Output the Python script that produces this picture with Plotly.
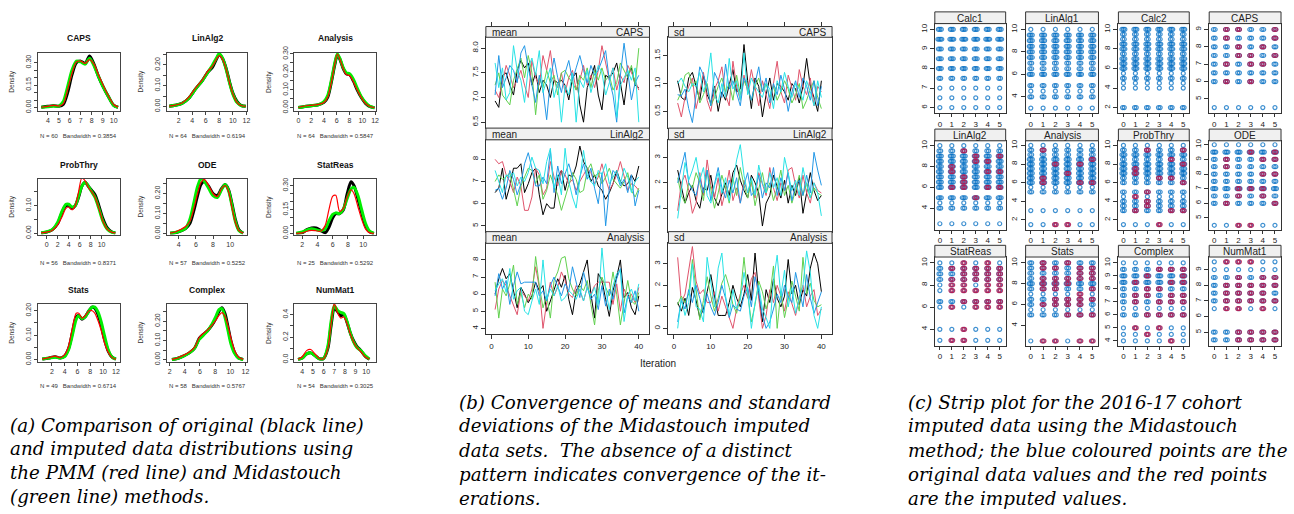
import plotly.graph_objects as go

W, H = 1294, 514

# ============ (a) density comparison data ============
caps_x = [3.4, 4.0, 4.5, 5.0, 5.4, 5.8, 6.2, 6.6, 7.0, 7.4, 7.8, 8.2, 8.6, 9.0, 9.5, 10.0, 10.4]
caps_orig = [0.002, 0.008, 0.012, 0.008, 0.02, 0.10, 0.22, 0.30, 0.31, 0.295, 0.345, 0.29, 0.21, 0.145, 0.075, 0.015, 0.002]
caps_pmm = [0.002, 0.008, 0.015, 0.01, 0.025, 0.12, 0.23, 0.305, 0.31, 0.295, 0.32, 0.29, 0.22, 0.155, 0.08, 0.02, 0.003]
caps_mids = [0.002, 0.006, 0.01, 0.01, 0.04, 0.14, 0.25, 0.31, 0.305, 0.29, 0.33, 0.28, 0.21, 0.145, 0.075, 0.015, 0.002]

linalg2_x = [0.6, 1.5, 2.5, 3.5, 4.5, 5.5, 6.3, 7.0, 7.6, 8.0, 8.5, 9.0, 9.5, 10.0, 10.6, 11.2, 11.9]
linalg2_orig = [0.002, 0.006, 0.015, 0.04, 0.085, 0.125, 0.165, 0.19, 0.23, 0.25, 0.23, 0.185, 0.12, 0.065, 0.025, 0.006, 0.001]
linalg2_pmm = [0.002, 0.007, 0.017, 0.045, 0.09, 0.13, 0.17, 0.195, 0.23, 0.245, 0.225, 0.18, 0.115, 0.06, 0.02, 0.005, 0.001]
linalg2_mids = [0.002, 0.006, 0.015, 0.04, 0.085, 0.125, 0.165, 0.2, 0.235, 0.255, 0.23, 0.18, 0.115, 0.06, 0.02, 0.005, 0.001]

analysis_x = [0, 1, 2, 3, 4, 4.6, 5.2, 5.7, 6.1, 6.5, 7.0, 7.5, 8.0, 8.6, 9.2, 9.8, 10.5, 11.2, 11.9]
analysis_orig = [0.002, 0.008, 0.012, 0.016, 0.03, 0.06, 0.15, 0.24, 0.295, 0.27, 0.22, 0.19, 0.185, 0.15, 0.1, 0.06, 0.025, 0.007, 0.001]
analysis_pmm = [0.002, 0.01, 0.014, 0.018, 0.03, 0.06, 0.15, 0.245, 0.3, 0.27, 0.22, 0.185, 0.18, 0.145, 0.1, 0.06, 0.025, 0.007, 0.001]
analysis_mids = [0.002, 0.008, 0.012, 0.016, 0.035, 0.07, 0.16, 0.25, 0.3, 0.275, 0.225, 0.195, 0.19, 0.16, 0.11, 0.065, 0.03, 0.008, 0.001]

probthry_x = [-1, 0, 1, 2, 2.8, 3.5, 4.0, 4.6, 5.2, 5.8, 6.4, 7.0, 7.6, 8.2, 8.8, 9.5, 10.2, 11, 11.8, 12.5]
probthry_orig = [0.001, 0.004, 0.012, 0.035, 0.075, 0.1, 0.1, 0.09, 0.1, 0.13, 0.17, 0.185, 0.17, 0.155, 0.14, 0.1, 0.055, 0.02, 0.005, 0.001]
probthry_pmm = [0.001, 0.004, 0.01, 0.03, 0.06, 0.09, 0.095, 0.085, 0.1, 0.15, 0.2, 0.19, 0.165, 0.15, 0.13, 0.09, 0.045, 0.015, 0.004, 0.001]
probthry_mids = [0.001, 0.005, 0.013, 0.04, 0.08, 0.105, 0.105, 0.095, 0.1, 0.135, 0.17, 0.185, 0.17, 0.15, 0.13, 0.09, 0.045, 0.015, 0.004, 0.001]

ode_x = [3.0, 3.6, 4.2, 4.8, 5.3, 5.8, 6.2, 6.6, 7.0, 7.5, 8.0, 8.5, 9.0, 9.4, 9.8, 10.2, 10.6, 11.0, 11.5]
ode_orig = [0.001, 0.004, 0.012, 0.025, 0.05, 0.12, 0.19, 0.245, 0.26, 0.235, 0.2, 0.19, 0.225, 0.245, 0.22, 0.15, 0.07, 0.02, 0.002]
ode_pmm = [0.002, 0.008, 0.02, 0.035, 0.06, 0.13, 0.2, 0.255, 0.27, 0.24, 0.2, 0.185, 0.225, 0.24, 0.21, 0.13, 0.055, 0.015, 0.002]
ode_mids = [0.001, 0.005, 0.013, 0.027, 0.07, 0.16, 0.235, 0.275, 0.26, 0.225, 0.19, 0.18, 0.22, 0.245, 0.215, 0.14, 0.06, 0.015, 0.002]

statreas_x = [1.2, 2.0, 2.6, 3.2, 3.8, 4.4, 5.0, 5.5, 6.0, 6.4, 6.9, 7.4, 7.9, 8.4, 8.8, 9.3, 9.8, 10.3, 10.8, 11.4]
statreas_orig = [0.001, 0.006, 0.025, 0.035, 0.035, 0.02, 0.005, 0.04, 0.1, 0.125, 0.125, 0.15, 0.25, 0.325, 0.3, 0.22, 0.13, 0.05, 0.012, 0.001]
statreas_pmm = [0.001, 0.005, 0.015, 0.02, 0.018, 0.015, 0.05, 0.15, 0.235, 0.24, 0.14, 0.16, 0.23, 0.275, 0.25, 0.17, 0.09, 0.03, 0.006, 0.001]
statreas_mids = [0.002, 0.01, 0.022, 0.03, 0.025, 0.018, 0.03, 0.08, 0.12, 0.13, 0.125, 0.155, 0.22, 0.28, 0.29, 0.24, 0.15, 0.065, 0.018, 0.002]

stats_x = [0.5, 1.5, 2.5, 3.3, 4.0, 4.6, 5.2, 5.8, 6.2, 6.7, 7.2, 7.8, 8.3, 8.7, 9.2, 9.7, 10.2, 10.8, 11.4, 12.0]
stats_orig = [0.002, 0.006, 0.012, 0.006, 0.015, 0.045, 0.11, 0.175, 0.18, 0.165, 0.175, 0.2, 0.215, 0.21, 0.185, 0.14, 0.085, 0.035, 0.01, 0.002]
stats_pmm = [0.002, 0.008, 0.014, 0.008, 0.02, 0.055, 0.13, 0.19, 0.19, 0.17, 0.18, 0.2, 0.2, 0.19, 0.16, 0.12, 0.07, 0.03, 0.008, 0.001]
stats_mids = [0.002, 0.006, 0.01, 0.006, 0.012, 0.04, 0.1, 0.165, 0.18, 0.168, 0.175, 0.2, 0.215, 0.215, 0.195, 0.155, 0.1, 0.04, 0.01, 0.002]

complex_x = [2.3, 3.0, 3.8, 4.6, 5.3, 5.9, 6.4, 7.0, 7.6, 8.1, 8.5, 8.9, 9.3, 9.7, 10.1, 10.6, 11.1, 11.7]
complex_orig = [0.001, 0.006, 0.018, 0.035, 0.06, 0.11, 0.13, 0.15, 0.18, 0.215, 0.25, 0.27, 0.24, 0.17, 0.095, 0.035, 0.008, 0.001]
complex_pmm = [0.001, 0.008, 0.022, 0.04, 0.065, 0.115, 0.135, 0.155, 0.18, 0.205, 0.23, 0.245, 0.225, 0.175, 0.11, 0.045, 0.012, 0.001]
complex_mids = [0.001, 0.006, 0.018, 0.035, 0.06, 0.105, 0.125, 0.15, 0.185, 0.225, 0.26, 0.265, 0.22, 0.15, 0.08, 0.03, 0.007, 0.001]

nummat1_x = [3.6, 4.0, 4.4, 4.8, 5.2, 5.6, 6.0, 6.4, 6.7, 7.0, 7.3, 7.6, 7.9, 8.2, 8.5, 8.8, 9.1, 9.5, 9.9, 10.3]
nummat1_orig = [0.002, 0.015, 0.05, 0.06, 0.035, 0.008, 0.01, 0.1, 0.3, 0.45, 0.43, 0.39, 0.4, 0.33, 0.24, 0.17, 0.12, 0.08, 0.03, 0.003]
nummat1_pmm = [0.003, 0.025, 0.08, 0.09, 0.05, 0.01, 0.008, 0.1, 0.32, 0.5, 0.42, 0.37, 0.38, 0.32, 0.23, 0.16, 0.11, 0.07, 0.025, 0.003]
nummat1_mids = [0.002, 0.015, 0.05, 0.06, 0.035, 0.008, 0.01, 0.12, 0.34, 0.48, 0.44, 0.42, 0.41, 0.34, 0.24, 0.16, 0.11, 0.08, 0.035, 0.004]

dens_titles = ["CAPS", "LinAlg2", "Analysis", "ProbThry", "ODE", "StatReas", "Stats", "Complex", "NumMat1"]
dens_notes = ["N = 60   Bandwidth = 0.3854", "N = 64   Bandwidth = 0.6194", "N = 64   Bandwidth = 0.5847",
              "N = 56   Bandwidth = 0.8371", "N = 57   Bandwidth = 0.5252", "N = 25   Bandwidth = 0.5292",
              "N = 49   Bandwidth = 0.6714", "N = 58   Bandwidth = 0.5767", "N = 54   Bandwidth = 0.3025"]
dens_xticks = [[4, 5, 6, 7, 8, 9, 10], [2, 4, 6, 8, 10, 12], [0, 2, 4, 6, 8, 10, 12],
               [0, 2, 4, 6, 8, 10], [4, 6, 8, 10], [2, 4, 6, 8, 10],
               [2, 4, 6, 8, 10, 12], [2, 4, 6, 8, 10, 12], [4, 5, 6, 7, 8, 9, 10]]
dens_yticks = [[0, 0.05, 0.10, 0.15, 0.20, 0.25, 0.30], [0, 0.05, 0.10, 0.15, 0.20, 0.25],
               [0, 0.05, 0.10, 0.15, 0.20, 0.25, 0.30], [0, 0.05, 0.10, 0.15],
               [0, 0.05, 0.10, 0.15, 0.20, 0.25], [0, 0.05, 0.10, 0.15, 0.20, 0.25, 0.30],
               [0, 0.05, 0.10, 0.15, 0.20], [0, 0.05, 0.10, 0.15, 0.20, 0.25], [0, 0.1, 0.2, 0.3, 0.4]]
dens_ylabels = [["0.00", "", "", "0.15", "", "", "0.30"], ["0.00", "", "0.10", "", "0.20", ""],
                ["0.00", "", "0.10", "", "0.20", "", "0.30"], ["0.00", "", "0.10", ""],
                ["0.00", "", "0.10", "", "0.20", ""], ["0.00", "", "", "0.15", "", "", "0.30"],
                ["0.00", "", "0.10", "", "0.20"], ["0.00", "", "0.10", "", "0.20", ""], ["0.0", "", "0.2", "", "0.4"]]
dens_xrange = [[3.09, 10.55], [0.22, 12.15], [-0.63, 12.16], [-1.6, 13.3], [2.6, 12.0],
               [0.95, 11.7], [-0.19, 12.6], [1.6, 12.26], [3.25, 10.93]]
dens_yrange = [[-0.02, 0.365], [-0.019, 0.258], [-0.015, 0.306], [-0.005, 0.197], [-0.005, 0.273],
               [-0.006, 0.343], [-0.008, 0.228], [-0.01, 0.29], [-0.017, 0.496]]
dens_data = [(caps_x, caps_orig, caps_pmm, caps_mids), (linalg2_x, linalg2_orig, linalg2_pmm, linalg2_mids),
             (analysis_x, analysis_orig, analysis_pmm, analysis_mids), (probthry_x, probthry_orig, probthry_pmm, probthry_mids),
             (ode_x, ode_orig, ode_pmm, ode_mids), (statreas_x, statreas_orig, statreas_pmm, statreas_mids),
             (stats_x, stats_orig, stats_pmm, stats_mids), (complex_x, complex_orig, complex_pmm, complex_mids),
             (nummat1_x, nummat1_orig, nummat1_pmm, nummat1_mids)]

# ============ (b) convergence trace data (5 chains x 40 iterations) ============
iterations = list(range(1, 41))
chain_colors = ["#000000", "#DF536B", "#61D04F", "#2297E6", "#28E2E5"]

mean_caps = [
    [6.93, 6.80, 7.45, 7.50, 7.25, 7.05, 7.55, 7.75, 7.60, 7.70, 7.25, 7.50, 7.10, 7.35, 7.25, 7.00, 7.35, 7.30, 7.35, 7.25,
     6.95, 7.40, 7.50, 6.85, 6.50, 7.20, 7.40, 7.65, 7.05, 6.75, 7.45, 7.40, 7.50, 7.70, 7.30, 6.85, 7.45, 7.60, 7.25, 7.20],
    [7.15, 7.00, 7.30, 7.65, 7.45, 7.20, 7.35, 7.55, 7.25, 7.00, 7.75, 7.40, 7.25, 7.85, 7.55, 7.95, 7.35, 7.20, 7.50, 7.10,
     7.40, 7.55, 7.15, 7.35, 7.65, 7.25, 7.45, 7.20, 7.55, 8.05, 7.70, 7.35, 7.60, 7.15, 7.45, 7.30, 7.65, 7.50, 7.35, 7.15],
    [7.25, 7.50, 7.05, 6.95, 6.85, 7.35, 7.60, 7.80, 7.40, 7.85, 7.50, 6.65, 7.40, 7.20, 7.55, 7.30, 7.45, 7.05, 7.50, 7.55,
     7.40, 7.30, 7.15, 7.45, 7.35, 7.60, 7.20, 7.55, 7.35, 7.60, 7.35, 7.45, 7.15, 7.30, 7.70, 7.55, 7.40, 7.65, 7.25, 8.00],
    [7.05, 7.85, 7.20, 7.40, 7.65, 7.55, 7.30, 7.90, 8.05, 7.60, 7.25, 6.90, 7.45, 7.15, 6.55, 7.35, 7.80, 7.40, 7.10, 7.50,
     7.75, 7.35, 7.60, 7.85, 7.55, 7.30, 7.65, 7.45, 7.55, 7.75, 7.95, 7.35, 7.05, 6.50, 7.45, 8.10, 7.50, 6.95, 7.30, 7.45],
    [7.70, 7.20, 7.60, 6.95, 7.10, 8.05, 7.55, 7.35, 6.90, 7.60, 7.80, 7.45, 7.95, 7.10, 7.35, 7.60, 7.00, 7.30, 6.50, 7.25,
     7.05, 7.50, 6.50, 7.35, 7.20, 7.55, 7.10, 7.40, 7.65, 7.50, 7.05, 7.30, 7.60, 6.60, 7.25, 7.40, 7.55, 7.35, 7.60, 6.50],
]
sd_caps = [
    [1.05, 0.75, 0.70, 1.10, 1.20, 0.95, 0.70, 1.15, 0.80, 0.65, 0.95, 0.50, 0.85, 0.70, 1.00, 1.25, 0.85, 0.90, 1.70, 1.05,
     0.55, 1.10, 0.95, 0.40, 0.80, 1.10, 0.70, 1.00, 0.95, 0.85, 0.70, 1.00, 0.90, 0.65, 0.95, 1.45, 0.95, 0.75, 0.50, 1.05],
    [0.65, 0.40, 0.75, 0.95, 1.10, 0.55, 0.85, 1.20, 0.70, 0.50, 0.90, 1.05, 1.30, 0.80, 0.60, 1.40, 0.95, 0.70, 1.15, 0.85,
     1.25, 0.95, 0.60, 1.05, 0.80, 0.55, 1.00, 1.40, 0.85, 0.65, 1.15, 0.90, 0.70, 1.25, 0.95, 0.80, 1.10, 0.60, 0.95, 0.85],
    [0.70, 0.85, 1.15, 1.20, 0.95, 1.05, 0.65, 0.80, 1.00, 0.60, 0.75, 0.95, 1.10, 0.85, 1.00, 0.70, 1.15, 0.80, 1.05, 0.90,
     0.70, 0.95, 1.10, 0.85, 1.00, 0.75, 0.95, 0.70, 0.85, 1.05, 0.90, 0.65, 0.80, 1.00, 0.55, 0.70, 0.90, 1.05, 0.75, 0.55],
    [0.80, 0.78, 0.90, 0.55, 0.30, 0.80, 1.30, 1.15, 0.95, 0.60, 1.20, 1.05, 0.75, 1.35, 0.90, 1.05, 0.80, 0.60, 1.10, 0.95,
     0.70, 1.00, 1.30, 0.85, 1.10, 0.65, 1.00, 0.80, 1.15, 0.90, 0.50, 0.85, 1.05, 0.75, 1.10, 0.95, 0.70, 1.05, 0.60, 0.95],
    [1.00, 1.10, 0.95, 0.85, 1.00, 0.95, 1.20, 0.85, 1.05, 1.55, 0.80, 0.65, 1.00, 0.75, 1.45, 0.90, 1.05, 0.70, 1.55, 0.80,
     1.10, 0.95, 0.85, 0.75, 1.00, 0.90, 0.55, 1.05, 0.85, 1.20, 0.95, 0.75, 1.00, 0.90, 0.70, 1.05, 0.85, 0.60, 1.05, 0.75],
]
mean_linalg2 = [
    [6.5, 6.7, 7.6, 6.2, 6.8, 7.6, 7.6, 7.8, 6.5, 6.9, 7.4, 7.6, 6.4, 5.5, 6.0, 5.8, 5.8, 7.2, 7.5, 6.6,
     7.3, 7.2, 7.7, 8.6, 7.9, 7.6, 7.0, 7.3, 6.8, 6.6, 6.2, 6.5, 6.9, 7.5, 7.0, 6.8, 6.9, 7.3, 7.0, 7.7],
    [8.0, 7.8, 7.9, 7.3, 7.0, 6.5, 7.2, 6.8, 5.7, 5.7, 6.3, 7.6, 7.3, 6.4, 6.7, 7.9, 7.2, 6.8, 7.5, 7.3,
     6.9, 7.1, 6.6, 7.0, 7.3, 7.6, 7.4, 6.9, 7.2, 7.8, 7.1, 6.6, 6.9, 7.3, 7.9, 7.2, 6.6, 6.9, 6.8, 6.6],
    [7.0, 7.3, 7.1, 7.2, 7.4, 6.6, 5.9, 6.8, 7.2, 7.6, 7.5, 6.9, 7.3, 6.2, 6.6, 7.3, 6.8, 6.4, 5.7, 6.3,
     6.9, 7.4, 7.1, 6.5, 6.6, 7.5, 7.8, 7.2, 7.4, 6.9, 7.2, 7.6, 7.1, 6.9, 6.7, 7.0, 7.4, 6.6, 6.3, 6.7],
    [6.6, 6.7, 6.2, 6.7, 7.5, 7.1, 6.4, 6.9, 7.8, 8.3, 7.6, 6.8, 6.8, 7.2, 6.9, 8.4, 6.5, 7.7, 6.9, 7.4,
     7.8, 7.2, 6.4, 7.2, 7.8, 7.1, 7.6, 6.7, 6.0, 7.4, 5.0, 6.7, 7.5, 7.3, 6.8, 7.1, 6.5, 7.3, 5.9, 6.6],
    [7.5, 7.0, 6.5, 7.3, 7.2, 7.4, 6.8, 7.2, 7.0, 7.4, 8.1, 7.6, 7.5, 6.9, 7.9, 8.5, 6.7, 7.3, 6.4, 8.5,
     7.0, 6.3, 5.8, 7.1, 8.4, 7.3, 7.0, 6.8, 7.5, 7.3, 7.8, 6.9, 7.2, 7.5, 6.9, 7.6, 7.2, 6.5, 7.0, 7.2],
]
sd_linalg2 = [
    [2.5, 1.9, 1.2, 1.6, 1.9, 1.3, 1.0, 1.8, 1.7, 2.3, 1.4, 1.1, 1.6, 2.0, 1.5, 2.4, 2.7, 2.1, 1.7, 1.4,
     2.3, 2.0, 1.6, 0.3, 1.2, 1.5, 2.3, 1.8, 1.4, 2.1, 1.2, 1.9, 1.5, 2.2, 0.8, 1.6, 2.4, 1.7, 1.3, 1.5],
    [0.9, 2.0, 2.3, 1.7, 0.8, 1.2, 2.4, 1.5, 2.9, 1.9, 1.4, 2.2, 1.1, 1.7, 2.5, 1.3, 1.8, 1.2, 2.1, 1.6,
     2.0, 1.4, 2.4, 1.9, 1.5, 2.6, 1.8, 1.3, 2.0, 1.7, 2.5, 2.6, 1.9, 1.4, 2.3, 1.6, 1.2, 2.0, 1.7, 1.6],
    [2.2, 1.5, 1.2, 2.0, 1.8, 2.4, 2.0, 1.3, 2.5, 1.7, 1.0, 1.6, 2.3, 1.8, 1.2, 2.2, 1.5, 2.6, 1.9, 1.4,
     2.1, 1.1, 1.7, 2.4, 1.6, 2.0, 1.3, 1.8, 2.5, 1.5, 1.9, 1.2, 1.7, 2.3, 1.5, 2.0, 1.4, 1.8, 1.6, 1.5],
    [2.0, 2.6, 3.2, 2.0, 1.7, 1.5, 2.2, 1.6, 2.5, 1.3, 2.0, 2.6, 1.8, 1.4, 2.1, 1.6, 2.2, 1.2, 1.9, 2.4,
     1.5, 1.7, 2.3, 1.4, 2.0, 1.8, 2.6, 1.5, 2.2, 1.7, 2.4, 1.3, 1.9, 2.1, 1.5, 2.3, 1.6, 3.2, 2.5, 1.9],
    [0.6, 1.6, 2.8, 2.1, 2.5, 3.0, 2.1, 2.6, 1.5, 1.2, 1.9, 2.4, 1.6, 2.2, 1.3, 2.0, 2.9, 3.5, 2.3, 1.6,
     2.2, 1.5, 2.7, 2.0, 1.6, 2.4, 1.8, 2.2, 1.5, 3.0, 2.4, 1.7, 2.1, 1.5, 2.6, 1.9, 1.4, 2.0, 1.6, 0.7],
]
mean_analysis = [
    [6.0, 6.9, 7.5, 6.9, 7.2, 6.2, 5.2, 6.4, 6.0, 5.5, 5.9, 6.7, 6.2, 6.5, 5.0, 5.6, 6.2, 6.9, 6.4, 7.1,
     5.7, 4.8, 6.2, 6.6, 7.3, 8.0, 6.0, 4.6, 7.2, 6.8, 5.7, 4.7, 6.2, 7.0, 8.0, 5.8, 6.1, 5.2, 4.8, 5.9],
    [5.1, 6.3, 6.8, 6.5, 5.9, 5.3, 4.8, 6.2, 5.9, 5.6, 6.3, 7.6, 6.4, 4.0, 5.5, 6.7, 5.9, 6.4, 7.3, 6.8,
     6.0, 5.8, 6.5, 6.2, 5.6, 6.4, 6.0, 6.5, 6.7, 6.7, 6.7, 6.7, 5.4, 6.6, 5.0, 6.3, 5.8, 6.0, 5.5, 6.4],
    [6.7, 4.6, 6.3, 5.9, 6.6, 7.7, 5.4, 6.1, 5.2, 6.0, 5.7, 8.2, 6.5, 5.2, 5.9, 4.6, 6.8, 7.3, 8.1, 8.2,
     6.9, 6.3, 5.9, 6.5, 6.2, 6.8, 5.4, 4.2, 6.2, 7.0, 6.4, 5.9, 7.3, 6.0, 4.2, 5.5, 6.8, 5.6, 5.4, 6.1],
    [5.9, 7.2, 6.3, 6.8, 5.4, 6.5, 7.3, 6.6, 6.7, 6.7, 6.7, 6.7, 5.9, 6.2, 5.6, 6.5, 7.0, 6.4, 5.9, 6.6,
     6.2, 7.6, 6.6, 5.8, 7.3, 6.4, 5.7, 6.0, 5.1, 6.5, 5.3, 6.3, 5.7, 6.9, 7.5, 4.9, 5.9, 5.5, 6.2, 5.0],
    [6.2, 6.6, 6.9, 6.1, 7.5, 5.7, 6.2, 6.4, 5.0, 4.8, 5.6, 6.3, 5.4, 8.0, 5.7, 6.3, 5.9, 6.5, 5.6, 5.8,
     6.2, 6.0, 5.7, 6.3, 5.6, 6.4, 5.9, 6.4, 5.4, 8.7, 6.3, 5.1, 6.5, 7.2, 7.4, 4.4, 5.9, 6.3, 5.6, 6.6],
]
sd_analysis = [
    [1.2, 0.8, 1.4, 0.6, 1.9, 1.3, 0.5, 0.9, 1.7, 2.5, 1.5, 0.6, 0.6, 0.6, 1.2, 2.0, 1.4, 1.0, 1.6, 2.5,
     1.3, 3.5, 1.6, 0.3, 1.8, 1.2, 2.3, 1.4, 1.0, 1.5, 3.2, 1.6, 2.0, 1.1, 1.8, 1.5, 2.8, 3.5, 3.0, 1.7],
    [3.3, 1.2, 1.6, 2.8, 3.8, 2.2, 1.6, 1.8, 1.2, 1.2, 1.7, 0.8, 1.5, 1.0, 0.5, 0.0, 0.9, 1.6, 2.0, 1.4,
     2.3, 2.6, 1.4, 0.0, 0.6, 1.8, 1.2, 2.0, 1.5, 0.8, 1.7, 1.2, 0.6, 1.4, 2.0, 1.0, 1.5, 1.8, 0.6, 0.9],
    [1.1, 1.5, 1.2, 1.6, 3.2, 1.8, 0.4, 1.3, 2.4, 1.5, 0.8, 1.4, 2.1, 2.5, 1.9, 1.1, 0.7, 1.5, 3.3, 1.6,
     0.3, 1.1, 2.2, 1.7, 0.9, 1.5, 2.9, 0.0, 1.7, 0.5, 1.3, 2.2, 1.5, 0.8, 3.3, 1.6, 2.1, 1.3, 1.0, 1.1],
    [0.3, 1.3, 0.9, 1.8, 1.2, 2.0, 1.4, 0.7, 1.6, 1.0, 0.6, 1.2, 2.0, 1.4, 0.5, 1.1, 0.9, 0.8, 1.5, 1.9,
     1.0, 2.4, 1.7, 0.6, 0.0, 0.3, 0.9, 1.6, 1.2, 2.0, 1.5, 1.2, 2.6, 1.8, 1.0, 2.5, 1.4, 0.7, 1.2, 1.7],
    [0.0, 1.4, 0.6, 1.2, 3.0, 1.0, 0.9, 0.3, 3.3, 2.2, 1.0, 2.8, 3.5, 1.5, 0.6, 1.8, 0.9, 1.3, 2.6, 1.7,
     0.0, 1.2, 2.0, 0.9, 0.5, 0.0, 2.2, 3.4, 1.5, 2.7, 1.0, 1.9, 0.7, 1.4, 2.0, 3.6, 2.6, 0.6, 0.0, 1.0],
]
trace_stats = ["mean", "sd", "mean", "sd", "mean", "sd"]
trace_vars = ["CAPS", "CAPS", "LinAlg2", "LinAlg2", "Analysis", "Analysis"]
trace_data = [mean_caps, sd_caps, mean_linalg2, sd_linalg2, mean_analysis, sd_analysis]
trace_yrange = [[6.38, 8.22], [0.2, 1.83], [4.74, 8.88], [0.08, 3.69], [3.66, 8.97], [-0.27, 3.95]]
trace_yticks = [[6.5, 7.0, 7.5, 8.0], [0.5, 1.0, 1.5], [5, 6, 7, 8], [1, 2, 3], [4, 5, 6, 7, 8], [0, 1, 2, 3]]
trace_ylabels = [["6.5", "7.0", "7.5", "8.0"], ["0.5", "1.0", "1.5"], ["5", "6", "7", "8"], ["1", "2", "3"],
                 ["4", "5", "6", "7", "8"], ["0", "1", "2", "3"]]
iter_ticks = [0, 10, 20, 30, 40]

# ============ (c) strip plot data (imputation number 0..5) ============
imp_numbers = [0, 1, 2, 3, 4, 5]

calc1_levels = [6.0, 6.5, 7.0, 7.5, 8.0, 8.5, 9.0, 9.5, 10.0]
calc1_counts = [1, 1, 1, 2, 3, 3, 3, 4, 3]
calc1_imputed = [[], [], [], [], []]

linalg1_levels = [3.0, 4.0, 4.5, 5.0, 6.0, 6.5, 7.0, 7.5, 8.0, 8.5, 9.0, 9.5, 10.0]
linalg1_counts = [1, 2, 1, 2, 3, 2, 2, 3, 3, 3, 3, 3, 1]
linalg1_imputed = [[], [], [], [], []]

calc2_levels = [2.0, 4.0, 4.5, 5.0, 5.5, 6.0, 6.5, 7.0, 7.5, 8.0, 8.5, 9.0, 9.5, 10.0]
calc2_counts = [2, 1, 1, 2, 1, 3, 3, 3, 2, 3, 3, 2, 2, 3]
calc2_imputed = [[], [], [], [], []]

capsS_levels = [4.5, 6.0, 6.5, 7.0, 7.5, 8.0, 8.5, 9.0]
capsS_counts = [1, 2, 2, 2, 2, 2, 2, 2]
capsS_imputed = [[9.0, 8.5, 7.0, 6.0], [9.0, 8.0, 7.5], [7.5, 7.0, 6.0], [7.0, 8.0], [9.0, 8.5, 7.5]]

linalg2S_levels = [2.5, 4.0, 4.5, 5.0, 6.0, 6.5, 7.0, 7.5, 8.0, 8.5, 9.0, 9.5, 10.0]
linalg2S_counts = [1, 2, 1, 3, 3, 3, 3, 3, 3, 3, 3, 2, 1]
linalg2S_imputed = [[8.0, 7.5, 6.0], [9.5, 7.0, 6.5, 6.0], [9.0, 8.5, 5.0], [8.5, 7.5, 6.0], [9.0, 7.5, 6.0]]

analysisS_levels = [1.5, 3.0, 5.0, 5.5, 6.0, 6.5, 7.0, 7.5, 8.0, 8.5, 9.0, 9.5, 10.0]
analysisS_counts = [1, 1, 2, 1, 3, 3, 3, 3, 3, 3, 2, 2, 1]
analysisS_imputed = [[9.5, 6.5, 6.0], [8.0, 1.5], [7.0, 1.5], [8.0, 6.0], [8.5, 6.0]]

probthryS_levels = [1.5, 3.0, 3.5, 4.0, 4.5, 5.0, 6.0, 6.5, 7.0, 7.5, 8.0, 8.5, 9.0, 9.5, 10.0]
probthryS_counts = [1, 2, 2, 2, 1, 2, 2, 2, 3, 3, 3, 2, 3, 2, 1]
probthryS_imputed = [[7.5, 7.0, 4.5, 3.0], [9.5, 5.0, 4.0, 3.5], [6.5, 1.5], [8.5, 6.5, 3.0], [9.5, 8.0, 6.0, 3.0]]

odeS_levels = [4.5, 6.0, 6.5, 7.0, 7.5, 8.0, 8.5, 9.0, 9.5, 10.0]
odeS_counts = [1, 2, 2, 3, 2, 2, 2, 2, 3, 1]
odeS_imputed = [[9.0, 8.5, 6.0], [7.0, 6.5, 4.5], [9.5, 7.0, 4.5], [9.0, 8.0, 7.0, 6.5], [9.5, 9.0, 8.0, 6.0]]

statreasS_levels = [3.0, 4.0, 6.0, 6.5, 7.5, 8.0, 8.5, 9.0, 9.5, 10.0]
statreasS_counts = [1, 1, 1, 2, 1, 1, 2, 2, 2, 1]
statreasS_imputed = [[9.5, 8.5, 8.0, 7.5, 6.0, 3.0], [10.0, 9.5, 9.0, 8.5, 8.0, 7.5, 6.5, 4.0, 3.0],
                     [9.5, 9.0, 8.5, 7.5, 6.5, 6.0], [10.0, 9.5, 9.0, 8.5, 8.0, 7.5, 6.5, 6.0],
                     [9.5, 9.0, 8.5, 8.0, 7.5, 6.5, 6.0]]

statsS_levels = [2.5, 5.0, 5.5, 6.0, 6.5, 7.0, 7.5, 8.0, 8.5, 9.0, 9.5, 10.0]
statsS_counts = [1, 2, 1, 2, 2, 1, 2, 3, 2, 2, 2, 2]
statsS_imputed = [[10.0, 9.5, 8.5, 8.0, 7.5, 6.0, 2.5], [9.5, 8.5, 8.0, 7.5, 6.5, 6.0, 2.5],
                  [10.0, 8.5, 8.0, 6.5, 6.0, 5.0], [9.5, 9.0, 8.5, 7.0, 6.5, 6.0, 5.0, 2.5],
                  [9.5, 9.0, 8.5, 7.5, 6.5, 5.0, 2.5]]

complexS_levels = [4.0, 4.5, 5.0, 6.0, 6.5, 7.0, 7.5, 8.0, 8.5, 9.0, 9.5, 10.0]
complexS_counts = [1, 1, 1, 2, 1, 2, 2, 2, 3, 3, 2, 1]
complexS_imputed = [[8.5, 7.5, 7.0, 5.0], [9.0, 8.0, 7.5, 6.0, 4.5], [9.5, 8.0, 7.0, 6.0, 5.0],
                    [9.5, 8.5, 7.5, 7.0, 6.0, 4.0], [9.5, 9.0, 8.5, 7.5, 7.0, 6.0]]

nummat1S_levels = [4.5, 5.0, 6.5, 7.0, 7.5, 8.0, 8.5, 9.0, 9.5]
nummat1S_counts = [2, 2, 1, 2, 2, 2, 2, 1, 1]
nummat1S_imputed = [[9.5, 8.0, 7.5, 7.0, 6.5], [9.5, 8.5, 8.0, 7.5, 7.0, 6.5, 5.0, 4.5],
                    [9.5, 8.0, 7.5, 7.0, 5.0, 4.5], [8.5, 8.0, 7.5, 7.0, 6.5, 5.0, 4.5],
                    [8.5, 8.0, 7.0, 5.0, 4.5]]

strip_titles = ["Calc1", "LinAlg1", "Calc2", "CAPS", "LinAlg2", "Analysis", "ProbThry", "ODE",
                "StatReas", "Stats", "Complex", "NumMat1"]
strip_data = [(calc1_levels, calc1_counts, calc1_imputed), (linalg1_levels, linalg1_counts, linalg1_imputed),
              (calc2_levels, calc2_counts, calc2_imputed), (capsS_levels, capsS_counts, capsS_imputed),
              (linalg2S_levels, linalg2S_counts, linalg2S_imputed), (analysisS_levels, analysisS_counts, analysisS_imputed),
              (probthryS_levels, probthryS_counts, probthryS_imputed), (odeS_levels, odeS_counts, odeS_imputed),
              (statreasS_levels, statreasS_counts, statreasS_imputed), (statsS_levels, statsS_counts, statsS_imputed),
              (complexS_levels, complexS_counts, complexS_imputed), (nummat1S_levels, nummat1S_counts, nummat1S_imputed)]
strip_yrange = [[5.7, 10.3], [2.52, 10.52], [1.4, 10.6], [4.16, 9.34],
                [1.93, 10.47], [0.95, 10.5], [0.95, 10.5], [4.2, 10.27],
                [2.5, 10.53], [2.03, 10.56], [3.62, 10.45], [4.12, 9.81]]
strip_yticks = [[6, 7, 8, 9, 10], [4, 6, 8, 10], [2, 4, 6, 8, 10], [5, 6, 7, 8, 9],
                [4, 6, 8, 10], [2, 4, 6, 8, 10], [2, 4, 6, 8, 10], [5, 6, 7, 8, 9, 10],
                [4, 6, 8, 10], [4, 6, 8, 10], [4, 5, 6, 7, 8, 9, 10], [5, 6, 7, 8, 9]]

captions_a = ["(a) Comparison of original (black line)", "and imputed data distributions using",
              "the PMM (red line) and Midastouch", "(green line) methods."]
captions_b = ["(b) Convergence of means and standard", "deviations of the Midastouch imputed",
              "data sets.  The absence of a distinct", "pattern indicates convergence of the it-", "erations."]
captions_c = ["(c) Strip plot for the 2016-17 cohort", "imputed data using the Midastouch",
              "method; the blue coloured points are the", "original data values and the red points",
              "are the imputed values."]

# ================= build figure =================
fig = go.Figure()
axes_layout = {}
annotations = []
shapes = []
counter = [0]


def px_x(x):
    return x / W


def px_y(y):
    return 1 - y / H


def new_axes(x0, x1, y0, y1, xa, ya):
    counter[0] += 1
    k = counter[0]
    s = "" if k == 1 else str(k)
    xa = dict(xa)
    ya = dict(ya)
    xa.update(domain=[px_x(x0), px_x(x1)], anchor="y" + s)
    ya.update(domain=[px_y(y1), px_y(y0)], anchor="x" + s)
    axes_layout["xaxis" + s] = xa
    axes_layout["yaxis" + s] = ya
    return "x" + s, "y" + s


def text(x, y, t, size, color="#222", family="Liberation Sans", xanchor="center", angle=0):
    annotations.append(dict(x=px_x(x), y=px_y(y), xref="paper", yref="paper", text=t, showarrow=False,
                            xanchor=xanchor, yanchor="middle", textangle=angle,
                            font=dict(size=size, color=color, family=family)))


# ---------- panel (a) ----------
a_cols = [(38, 120), (167, 248), (295, 377)]
a_rows = [(47, 106), (176, 233), (304, 363)]
a_title_y = [32, 162, 290]
a_note_y = [132, 262, 388]
tickfont_a = dict(size=7, color="#333", family="Liberation Sans")
for i in range(9):
    r, c = divmod(i, 3)
    x0, x1 = a_cols[c]
    y0, y1 = a_rows[r]
    xa = dict(range=dens_xrange[i], tickvals=dens_xticks[i], ticks="outside", ticklen=3, tickcolor="#444",
              showline=True, mirror=True, linecolor="#444", linewidth=1, showgrid=False, zeroline=False,
              tickfont=tickfont_a)
    ya = dict(range=dens_yrange[i], tickvals=dens_yticks[i], ticktext=dens_ylabels[i], ticks="outside",
              ticklen=3, tickcolor="#444", showline=True, mirror=True, linecolor="#444", linewidth=1,
              showgrid=False, zeroline=False, tickangle=-90, tickfont=tickfont_a)
    xr, yr = new_axes(x0, x1, y0, y1, xa, ya)
    dx, d_orig, d_pmm, d_mids = dens_data[i]
    for yy, col, wd in [(d_orig, "#000000", 3), (d_mids, "#00EE00", 3), (d_pmm, "#FF0000", 1.2)]:
        fig.add_trace(go.Scatter(x=dx, y=yy, xaxis=xr, yaxis=yr, mode="lines",
                                 line=dict(color=col, width=wd, shape="spline", smoothing=0.8),
                                 showlegend=False, hoverinfo="skip"))
    text((x0 + x1) / 2, a_title_y[r], "<b>" + dens_titles[i] + "</b>", 8.5, color="#111")
    text((x0 + x1) / 2, a_note_y[r], dens_notes[i], 6, color="#333")
    text(x0 - 26, (y0 + y1) / 2, "Density", 6.5, color="#333", angle=-90)

# ---------- panel (b) ----------
b_cols = [(487, 651), (670, 834)]
b_rows = [(20, 31, 124), (124, 136, 230), (230, 242, 335)]
b_xrange = [-1.5, 42.9]
tickfont_b = dict(size=8, color="#222", family="Liberation Sans")
for i in range(6):
    r, c = divmod(i, 2)
    x0, x1 = b_cols[c]
    s0, s1, y1 = b_rows[r]
    bottom = (r == 2)
    xa = dict(range=b_xrange, tickvals=iter_ticks, ticks="outside" if bottom else "", ticklen=4,
              tickcolor="#333", showticklabels=bottom, showline=True, mirror=True, linecolor="#333",
              linewidth=1, showgrid=False, zeroline=False, tickfont=tickfont_b)
    ya = dict(range=trace_yrange[i], tickvals=trace_yticks[i], ticktext=trace_ylabels[i], ticks="outside",
              ticklen=4, tickcolor="#333", showline=True, mirror=True, linecolor="#333", linewidth=1,
              showgrid=False, zeroline=False, tickangle=-90, tickfont=tickfont_b)
    xr, yr = new_axes(x0, x1, s1, y1, xa, ya)
    for ch in range(5):
        fig.add_trace(go.Scatter(x=iterations, y=trace_data[i][ch], xaxis=xr, yaxis=yr, mode="lines",
                                 line=dict(color=chain_colors[ch], width=1), showlegend=False, hoverinfo="skip"))
    shapes.append(dict(type="rect", xref="paper", yref="paper", x0=px_x(x0), x1=px_x(x1), y0=px_y(s1), y1=px_y(s0),
                       fillcolor="#F0F0F0", line=dict(color="#333", width=1), layer="above"))
    text(x0 + 4, (s0 + s1) / 2 + 0.5, trace_stats[i], 10, xanchor="left")
    text(x1 - 3, (s0 + s1) / 2 + 0.5, trace_vars[i], 10, xanchor="right")
    if r == 0:
        # tick marks above the strips (lattice top axis)
        xa2 = dict(range=b_xrange, tickvals=iter_ticks, ticks="outside", ticklen=4, tickcolor="#333",
                   showticklabels=False, showline=False, showgrid=False, zeroline=False, side="top")
        ya2 = dict(range=[0, 1], visible=False)
        xr2, yr2 = new_axes(x0, x1, s0, y1, xa2, ya2)
        fig.add_trace(go.Scatter(x=[None], y=[None], xaxis=xr2, yaxis=yr2, mode="markers",
                                 showlegend=False, hoverinfo="skip"))
text(660, 365, "Iteration", 10)

# ---------- panel (c) ----------
c_cols = [(937, 1008), (1028, 1101), (1121, 1192), (1212, 1284)]
c_rows = [(5, 17, 109), (125, 137, 228), (244, 256, 347)]
c_xrange = [-0.42, 5.5]
jitter = {1: [0.0], 2: [-0.07, 0.07], 3: [-0.12, 0.0, 0.12], 4: [-0.16, -0.055, 0.055, 0.16]}
blue = "rgba(0,108,194,0.75)"
red = "rgba(182,26,81,0.85)"
for i in range(12):
    r, c = divmod(i, 4)
    x0, x1 = c_cols[c]
    s0, s1, y1 = c_rows[r]
    xa = dict(range=c_xrange, tickvals=imp_numbers, ticks="outside", ticklen=3, tickcolor="#333",
              showline=True, mirror=True, linecolor="#333", linewidth=1, showgrid=False, zeroline=False,
              tickfont=tickfont_b)
    ya = dict(range=strip_yrange[i], tickvals=strip_yticks[i], ticks="outside", ticklen=4, tickcolor="#333",
              showline=True, mirror=True, linecolor="#333", linewidth=1, showgrid=False, zeroline=False,
              tickangle=-90, tickfont=tickfont_b)
    xr, yr = new_axes(x0, x1, s1, y1, xa, ya)
    levels, counts, imputed = strip_data[i]
    bx, by = [], []
    for m in imp_numbers:
        for lv, n in zip(levels, counts):
            for off in jitter[n]:
                bx.append(m + off)
                by.append(lv)
    rx, ry = [], []
    for m in imp_numbers[1:]:
        for lv in imputed[m - 1]:
            for off in jitter[2]:
                rx.append(m + off)
                ry.append(lv)
    fig.add_trace(go.Scatter(x=bx, y=by, xaxis=xr, yaxis=yr, mode="markers",
                             marker=dict(symbol="circle-open", size=4, color=blue, line=dict(width=1.2)),
                             showlegend=False, hoverinfo="skip"))
    if rx:
        fig.add_trace(go.Scatter(x=rx, y=ry, xaxis=xr, yaxis=yr, mode="markers",
                                 marker=dict(symbol="circle-open", size=4, color=red, line=dict(width=1.2)),
                                 showlegend=False, hoverinfo="skip"))
    shapes.append(dict(type="rect", xref="paper", yref="paper", x0=px_x(x0), x1=px_x(x1), y0=px_y(s1), y1=px_y(s0),
                       fillcolor="#F0F0F0", line=dict(color="#333", width=1), layer="above"))
    text((x0 + x1) / 2, (s0 + s1) / 2 + 0.5, strip_titles[i], 10)

# ---------- captions ----------
cap_font = "DejaVu Serif"
cap_size = 18.3
for j, line in enumerate(captions_a):
    text(8, [428, 452, 477, 501][j], "<i>" + line + "</i>", cap_size, color="#000", family=cap_font, xanchor="left")
for j, line in enumerate(captions_b):
    text(458, [405, 429, 454, 479, 503][j], "<i>" + line + "</i>", cap_size, color="#000", family=cap_font, xanchor="left")
for j, line in enumerate(captions_c):
    text(908, [405, 429, 454, 479, 503][j], "<i>" + line + "</i>", cap_size, color="#000", family=cap_font, xanchor="left")

fig.update_layout(**axes_layout)
fig.update_layout(width=W, height=H, margin=dict(l=0, r=0, t=0, b=0), paper_bgcolor="white",
                  plot_bgcolor="rgba(0,0,0,0)", showlegend=False, hovermode=False,
                  annotations=annotations, shapes=shapes)
fig.write_html("out.html", config={"displayModeBar": False},
               post_script="document.body.style.margin='0';document.body.style.overflow='hidden';")
